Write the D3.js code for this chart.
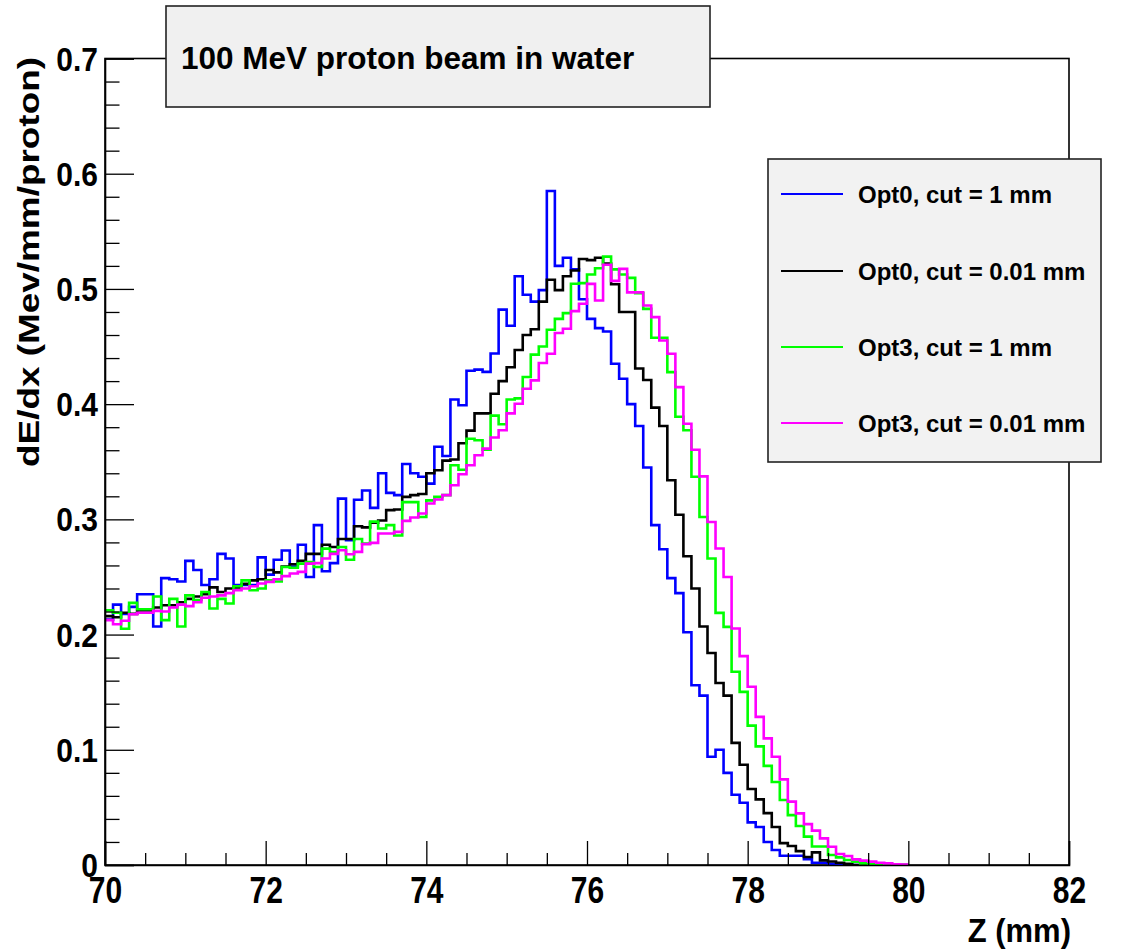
<!DOCTYPE html>
<html>
<head>
<meta charset="utf-8">
<script src="https://cdn.jsdelivr.net/npm/d3@7"></script>
<style>
  html, body { margin: 0; padding: 0; background: #fff; }
  svg { display: block; }
  text { font-family: "Liberation Sans", Arial, Helvetica, sans-serif; font-weight: bold; fill: #000; }
</style>
</head>
<body>
<div id="chart"></div>
<script>
// ---------------- data ----------------
const title = "100 MeV proton beam in water";
const xTitle = "Z (mm)";
const yTitle = "dE/dx (Mev/mm/proton)";
const binLow = 70, binWidth = 0.1;
const xMajorTicks = [70, 72, 74, 76, 78, 80, 82];
const xTickLabels = ["70", "72", "74", "76", "78", "80", "82"];
const yMajorTicks = [0, 0.1, 0.2, 0.3, 0.4, 0.5, 0.6, 0.7];
const yTickLabels = ["0", "0.1", "0.2", "0.3", "0.4", "0.5", "0.6", "0.7"];
const seriesNames = ["Opt0, cut = 1 mm", "Opt0, cut = 0.01 mm", "Opt3, cut = 1 mm", "Opt3, cut = 0.01 mm"];
const seriesColors = ["#0000ff", "#000000", "#00ff00", "#ff00ff"];

const opt0Cut1 = [
  0.213,0.226,0.218,0.224,0.235,0.235,0.207,0.249,0.248,0.246,
  0.264,0.256,0.243,0.248,0.270,0.266,0.243,0.243,0.243,0.267,
  0.252,0.265,0.273,0.259,0.278,0.250,0.295,0.255,0.262,0.318,
  0.282,0.317,0.325,0.310,0.340,0.323,0.321,0.348,0.340,0.337,
  0.331,0.363,0.355,0.404,0.399,0.429,0.430,0.428,0.444,0.482,
  0.468,0.511,0.495,0.489,0.499,0.585,0.520,0.527,0.517,0.491,
  0.474,0.466,0.463,0.435,0.422,0.400,0.381,0.345,0.295,0.274,
  0.249,0.236,0.202,0.156,0.147,0.094,0.100,0.080,0.061,0.054,
  0.037,0.033,0.020,0.013,0.008,0.008,0.008,0.005,0.002,0.002,
  0.001,0.001,0.0005,0,0,0,0,0,0,0];
const opt0Cut001 = [
  0.216,0.215,0.219,0.218,0.221,0.221,0.2235,0.2255,0.2255,0.228,
  0.231,0.233,0.235,0.241,0.237,0.240,0.241,0.244,0.247,0.248,
  0.256,0.254,0.259,0.261,0.264,0.270,0.270,0.278,0.276,0.283,
  0.283,0.294,0.293,0.297,0.299,0.308,0.3085,0.3195,0.321,0.322,
  0.340,0.3426,0.351,0.352,0.366,0.377,0.392,0.392,0.409,0.420,
  0.432,0.447,0.460,0.465,0.489,0.508,0.499,0.511,0.516,0.526,
  0.525,0.527,0.522,0.504,0.480,0.480,0.431,0.421,0.397,0.381,
  0.334,0.304,0.268,0.240,0.207,0.184,0.158,0.147,0.106,0.087,
  0.066,0.057,0.045,0.033,0.019,0.0165,0.012,0.007,0.011,0.004,
  0.003,0.002,0.001,0,0,0,0,0,0,0];
const opt3Cut1 = [
  0.221,0.219,0.205,0.2275,0.222,0.222,0.233,0.2125,0.231,0.207,
  0.234,0.230,0.237,0.2226,0.231,0.227,0.242,0.247,0.2385,0.240,
  0.247,0.246,0.2587,0.258,0.2616,0.263,0.2587,0.2746,0.2717,0.276,
  0.265,0.283,0.279,0.298,0.292,0.295,0.286,0.315,0.315,0.302,
  0.3165,0.3195,0.321,0.347,0.343,0.370,0.3686,0.3605,0.390,0.3825,
  0.404,0.405,0.4236,0.443,0.450,0.4646,0.474,0.479,0.5045,0.505,
  0.5125,0.518,0.528,0.517,0.5125,0.5096,0.4963,0.4827,0.4576,0.4576,
  0.4278,0.389,0.3773,0.337,0.302,0.266,0.2188,0.2067,0.1677,0.1503,
  0.121,0.103,0.086,0.072,0.0564,0.0433,0.0338,0.0246,0.016,0.016,
  0.0087,0.0066,0.0043,0.0029,0.0014,0.0009,0.0004,0,0,0];
const opt3Cut001 = [
  0.2125,0.209,0.212,0.2177,0.219,0.219,0.2206,0.220,0.2235,0.226,
  0.2247,0.228,0.232,0.233,0.234,0.236,0.2385,0.240,0.242,0.2443,
  0.2457,0.248,0.2507,0.253,0.2544,0.2616,0.262,0.266,0.270,0.2732,
  0.2697,0.2718,0.2785,0.2796,0.2877,0.2877,0.2891,0.2987,0.3016,0.3051,
  0.3137,0.3172,0.321,0.3296,0.3391,0.347,0.3556,0.3614,0.371,0.3773,
  0.392,0.4004,0.4134,0.4206,0.4357,0.4437,0.4617,0.4654,0.4807,0.4871,
  0.5044,0.490,0.521,0.507,0.5174,0.497,0.497,0.4856,0.4755,0.4553,
  0.4437,0.4148,0.383,0.3604,0.3373,0.2977,0.2747,0.250,0.2053,0.1813,
  0.1547,0.1286,0.1099,0.0939,0.0743,0.055,0.0448,0.0355,0.0298,0.0231,
  0.0159,0.0095,0.0078,0.0049,0.0038,0.0029,0.002,0.0014,0.0006,0.0003];
const seriesValues = [opt0Cut1, opt0Cut001, opt3Cut1, opt3Cut001];

// ---------------- layout ----------------
const W = 1130, H = 950;
const plot = { left: 105, right: 1069, top: 58.5, bottom: 865 };

const svg = d3.select("#chart").append("svg").attr("width", W).attr("height", H);
svg.append("rect").attr("width", W).attr("height", H).attr("fill", "#fff");

const x = d3.scaleLinear().domain([70, 82]).range([plot.left, plot.right]);
const y = d3.scaleLinear().domain([0, 0.7]).range([plot.bottom, plot.top]);

// frame
svg.append("rect")
  .attr("x", plot.left).attr("y", plot.top)
  .attr("width", plot.right - plot.left).attr("height", plot.bottom - plot.top)
  .attr("fill", "none").attr("stroke", "#000").attr("stroke-width", 1.6);

// clip
svg.append("clipPath").attr("id", "clip").append("rect")
  .attr("x", plot.left).attr("y", plot.top)
  .attr("width", plot.right - plot.left).attr("height", plot.bottom - plot.top);

// histograms
const line = d3.line().curve(d3.curveStepAfter).x(d => x(d[0])).y(d => y(d[1]));
const gHist = svg.append("g").attr("clip-path", "url(#clip)");
seriesValues.forEach((vals, k) => {
  const pts = vals.map((v, i) => [binLow + i * binWidth, v]);
  pts.push([binLow + vals.length * binWidth, vals[vals.length - 1]]);
  gHist.append("path").attr("d", line(pts))
    .attr("fill", "none").attr("stroke", seriesColors[k])
    .attr("stroke-width", 2.6).attr("stroke-linejoin", "miter");
});

// x axis minor
const xMinor = d3.range(70, 82.001, 0.5).filter(v => Math.abs(v / 2 - Math.round(v / 2)) > 1e-6);
svg.append("g").attr("transform", `translate(0,${plot.bottom})`)
  .call(d3.axisBottom(x).tickValues(xMinor).tickSize(-12).tickFormat(""))
  .call(g => g.select(".domain").remove())
  .call(g => g.selectAll("line").attr("stroke", "#000").attr("stroke-width", 1.3));
// x axis major
const gx = svg.append("g").attr("transform", `translate(0,${plot.bottom})`)
  .call(d3.axisBottom(x).tickValues(xMajorTicks).tickSize(-24)
        .tickFormat((d, i) => xTickLabels[i]));
gx.select(".domain").attr("stroke", "#000").attr("stroke-width", 1.6);
gx.selectAll("line").attr("stroke", "#000").attr("stroke-width", 1.3);
gx.selectAll("text")
  .attr("font-size", 30).attr("font-family", null)
  .attr("dy", 0).attr("y", 38 / 1.2)
  .attr("transform", "scale(1,1.2)");

// y axis minor
const yMinor = d3.range(0, 0.7001, 0.02).filter(v => Math.abs(v * 10 - Math.round(v * 10)) > 1e-6);
svg.append("g").attr("transform", `translate(${plot.left},0)`)
  .call(d3.axisLeft(y).tickValues(yMinor).tickSize(-14.5).tickFormat(""))
  .call(g => g.select(".domain").remove())
  .call(g => g.selectAll("line").attr("stroke", "#000").attr("stroke-width", 1.3));
// y axis major
const gy = svg.append("g").attr("transform", `translate(${plot.left},0)`)
  .call(d3.axisLeft(y).tickValues(yMajorTicks).tickSize(-29).tickPadding(7)
        .tickFormat((d, i) => yTickLabels[i]));
gy.select(".domain").attr("stroke", "#000").attr("stroke-width", 1.6);
gy.selectAll("line").attr("stroke", "#000").attr("stroke-width", 1.3);
gy.selectAll("text")
  .attr("font-size", 30).attr("font-family", null)
  .attr("dy", "0.35em")
  .attr("transform", "scale(1,1.1)");

// axis titles
svg.append("text")
  .attr("text-anchor", "end")
  .attr("font-size", 31)
  .attr("transform", `translate(1071,942) scale(1,1.1)`)
  .text(xTitle);
svg.append("text")
  .attr("text-anchor", "end")
  .attr("font-size", 30)
  .attr("transform", `translate(39,57) rotate(-90)`)
  .attr("textLength", 410).attr("lengthAdjust", "spacingAndGlyphs")
  .text(yTitle);

// title box
svg.append("rect")
  .attr("x", 166).attr("y", 6).attr("width", 544).attr("height", 101)
  .attr("fill", "#f0f0f0").attr("stroke", "#222").attr("stroke-width", 1.6);
svg.append("text")
  .attr("x", 181).attr("y", 69)
  .attr("font-size", 31.5)
  .text(title);

// legend
const leg = svg.append("g");
leg.append("rect")
  .attr("x", 768).attr("y", 159).attr("width", 333).attr("height", 303)
  .attr("fill", "#f2f2f2").attr("stroke", "#222").attr("stroke-width", 1.6);
const legY = [194, 271, 347, 423];
seriesNames.forEach((name, k) => {
  leg.append("line")
    .attr("x1", 781).attr("x2", 843).attr("y1", legY[k]).attr("y2", legY[k])
    .attr("stroke", seriesColors[k]).attr("stroke-width", 2.2);
  leg.append("text")
    .attr("x", 858).attr("y", legY[k] + 9)
    .attr("font-size", 24)
    .text(name);
});
</script>
</body>
</html>
